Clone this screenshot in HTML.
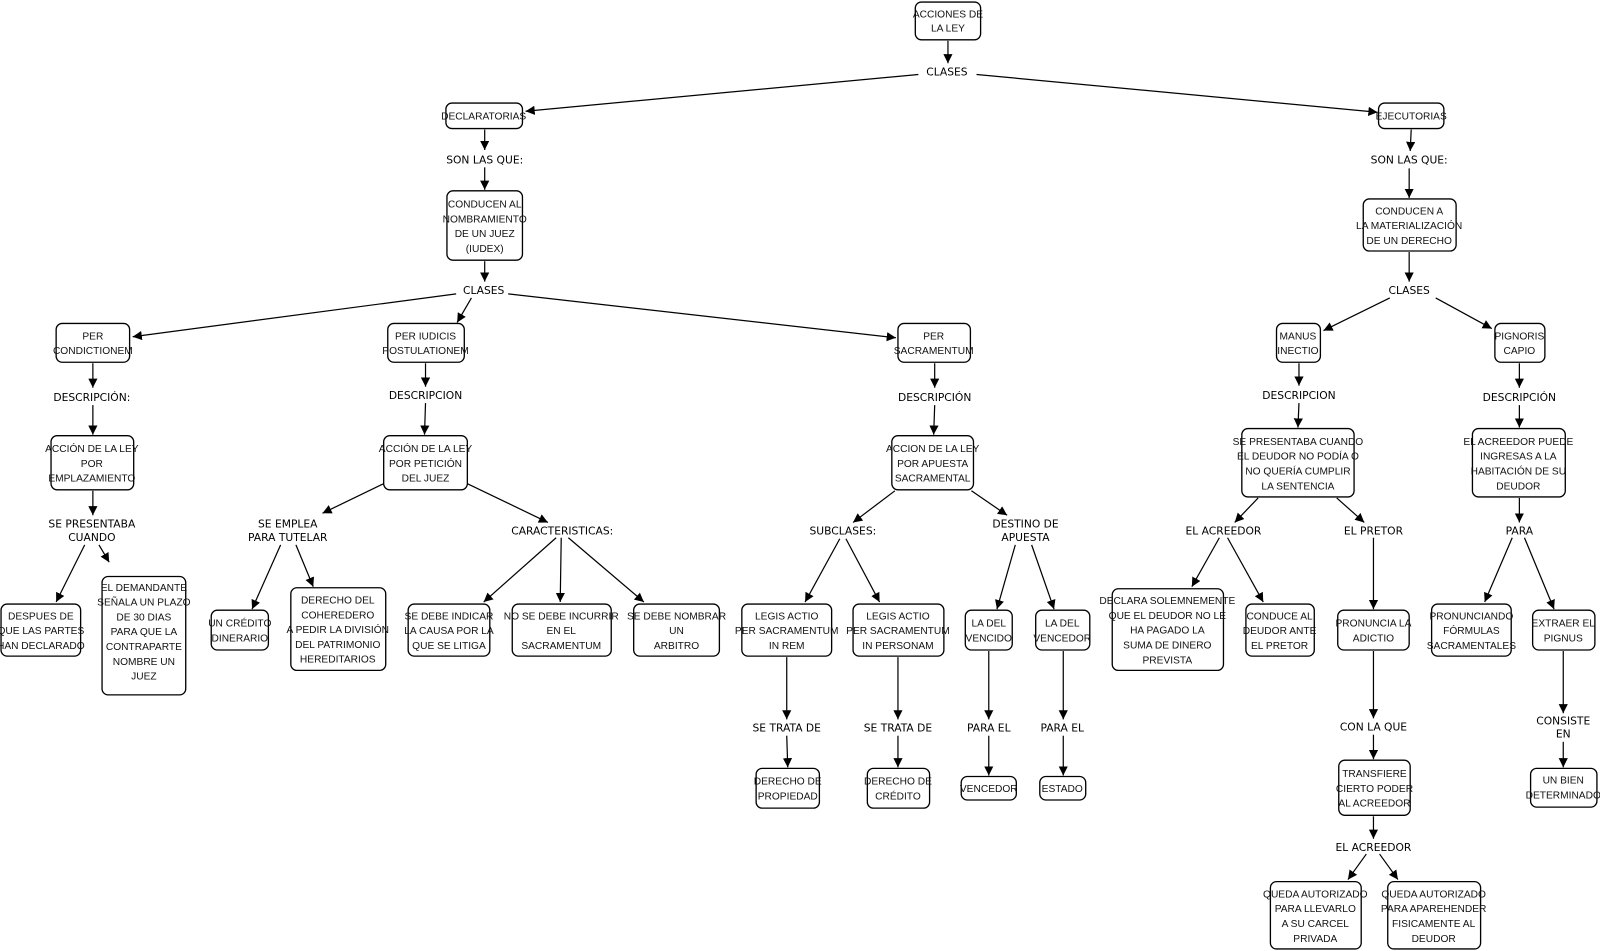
<!DOCTYPE html>
<html><head><meta charset="utf-8"><style>
html,body{margin:0;padding:0;background:#fff;}
svg{display:block}
.b{fill:#fff;stroke:#000;stroke-width:1.3}
.t{font-family:"Liberation Sans Narrow","Liberation Sans",sans-serif;font-size:10px;text-anchor:middle;fill:#111}
.l{font-family:"DejaVu Sans","Liberation Sans",sans-serif;font-size:10.5px;text-anchor:middle;fill:#000}
.e{stroke:#000;stroke-width:1.2;marker-end:url(#a)}
</style></head><body>
<svg width="1600" height="951" viewBox="0 0 1568 932" xmlns="http://www.w3.org/2000/svg">
<defs><marker id="a" viewBox="0 0 10 10" refX="10" refY="5" markerWidth="9" markerHeight="9" markerUnits="userSpaceOnUse" orient="auto"><path d="M0,0 L10,5 L0,10 z" fill="#000"/></marker></defs>
<g>
<line class="e" x1="929" y1="40" x2="929" y2="62"/>
<line class="e" x1="900" y1="73" x2="515" y2="109"/>
<line class="e" x1="957" y1="73" x2="1350" y2="110"/>
<line class="e" x1="475" y1="127" x2="475" y2="147"/>
<line class="e" x1="475" y1="164" x2="475" y2="186"/>
<line class="e" x1="475" y1="256" x2="475" y2="276"/>
<line class="e" x1="447" y1="288" x2="130" y2="330"/>
<line class="e" x1="462" y1="292" x2="448" y2="316"/>
<line class="e" x1="498" y1="288" x2="878" y2="331"/>
<line class="e" x1="1383" y1="127" x2="1382" y2="148"/>
<line class="e" x1="1381" y1="165" x2="1381" y2="194"/>
<line class="e" x1="1381" y1="247" x2="1381" y2="276"/>
<line class="e" x1="1362" y1="292" x2="1297" y2="324"/>
<line class="e" x1="1407" y1="292" x2="1462" y2="322"/>
<line class="e" x1="91" y1="356" x2="91" y2="380"/>
<line class="e" x1="91" y1="397" x2="91" y2="426"/>
<line class="e" x1="417" y1="356" x2="417" y2="379"/>
<line class="e" x1="417" y1="395" x2="416" y2="426"/>
<line class="e" x1="916" y1="356" x2="916" y2="380"/>
<line class="e" x1="916" y1="397" x2="915" y2="426"/>
<line class="e" x1="1273" y1="356" x2="1273" y2="378"/>
<line class="e" x1="1273" y1="395" x2="1272" y2="419"/>
<line class="e" x1="1489" y1="356" x2="1489" y2="380"/>
<line class="e" x1="1489" y1="397" x2="1489" y2="419"/>
<line class="e" x1="91" y1="481" x2="91" y2="505"/>
<line class="e" x1="83" y1="534" x2="55" y2="590"/>
<line class="e" x1="97" y1="534" x2="107" y2="551"/>
<line class="e" x1="376" y1="474" x2="316" y2="503"/>
<line class="e" x1="275" y1="534" x2="247" y2="597"/>
<line class="e" x1="290" y1="534" x2="307" y2="575"/>
<line class="e" x1="458" y1="474" x2="537" y2="512"/>
<line class="e" x1="545" y1="527" x2="474" y2="590"/>
<line class="e" x1="550" y1="527" x2="549" y2="590"/>
<line class="e" x1="557" y1="527" x2="631" y2="590"/>
<line class="e" x1="877" y1="481" x2="836" y2="512"/>
<line class="e" x1="952" y1="481" x2="987" y2="505"/>
<line class="e" x1="823" y1="528" x2="789" y2="590"/>
<line class="e" x1="829" y1="528" x2="862" y2="590"/>
<line class="e" x1="995" y1="534" x2="977" y2="597"/>
<line class="e" x1="1011" y1="534" x2="1033" y2="597"/>
<line class="e" x1="771" y1="644" x2="771" y2="705"/>
<line class="e" x1="880" y1="644" x2="880" y2="705"/>
<line class="e" x1="969" y1="638" x2="969" y2="705"/>
<line class="e" x1="1042" y1="638" x2="1042" y2="705"/>
<line class="e" x1="771" y1="721" x2="772" y2="752"/>
<line class="e" x1="880" y1="721" x2="880" y2="752"/>
<line class="e" x1="969" y1="721" x2="969" y2="760"/>
<line class="e" x1="1042" y1="721" x2="1042" y2="760"/>
<line class="e" x1="1233" y1="488" x2="1210" y2="512"/>
<line class="e" x1="1310" y1="488" x2="1337" y2="512"/>
<line class="e" x1="1195" y1="527" x2="1168" y2="575"/>
<line class="e" x1="1203" y1="527" x2="1238" y2="590"/>
<line class="e" x1="1346" y1="527" x2="1346" y2="597"/>
<line class="e" x1="1346" y1="638" x2="1346" y2="704"/>
<line class="e" x1="1346" y1="720" x2="1346" y2="744"/>
<line class="e" x1="1489" y1="488" x2="1489" y2="512"/>
<line class="e" x1="1482" y1="527" x2="1455" y2="590"/>
<line class="e" x1="1494" y1="527" x2="1523" y2="597"/>
<line class="e" x1="1532" y1="638" x2="1532" y2="699"/>
<line class="e" x1="1532" y1="727" x2="1532" y2="752"/>
<line class="e" x1="1346" y1="800" x2="1346" y2="822"/>
<line class="e" x1="1339" y1="837" x2="1321" y2="862"/>
<line class="e" x1="1352" y1="837" x2="1370" y2="862"/>
</g>
<g>
<rect class="b" x="897" y="2" width="64" height="37" rx="6"/>
<rect class="b" x="437" y="101" width="75" height="25" rx="6"/>
<rect class="b" x="1351" y="101" width="64" height="25" rx="6"/>
<rect class="b" x="438" y="187" width="74" height="68" rx="6"/>
<rect class="b" x="1336" y="195" width="91" height="51" rx="6"/>
<rect class="b" x="55" y="317" width="72" height="38" rx="6"/>
<rect class="b" x="380" y="317" width="75" height="38" rx="6"/>
<rect class="b" x="880" y="317" width="71" height="38" rx="6"/>
<rect class="b" x="1251" y="317" width="43" height="38" rx="6"/>
<rect class="b" x="1465" y="317" width="49" height="38" rx="6"/>
<rect class="b" x="50" y="427" width="81" height="53" rx="6"/>
<rect class="b" x="376" y="427" width="82" height="53" rx="6"/>
<rect class="b" x="874" y="427" width="80" height="53" rx="6"/>
<rect class="b" x="1217" y="420" width="110" height="67" rx="6"/>
<rect class="b" x="1443" y="420" width="91" height="67" rx="6"/>
<rect class="b" x="1" y="592" width="78" height="51" rx="6"/>
<rect class="b" x="100" y="565" width="82" height="116" rx="6"/>
<rect class="b" x="207" y="598" width="56" height="39" rx="6"/>
<rect class="b" x="285" y="576" width="93" height="81" rx="6"/>
<rect class="b" x="400" y="592" width="80" height="51" rx="6"/>
<rect class="b" x="502" y="592" width="97" height="51" rx="6"/>
<rect class="b" x="621" y="592" width="84" height="51" rx="6"/>
<rect class="b" x="727" y="592" width="88" height="51" rx="6"/>
<rect class="b" x="836" y="592" width="89" height="51" rx="6"/>
<rect class="b" x="946" y="598" width="46" height="39" rx="6"/>
<rect class="b" x="1015" y="598" width="53" height="39" rx="6"/>
<rect class="b" x="1090" y="577" width="109" height="80" rx="6"/>
<rect class="b" x="1221" y="592" width="67" height="51" rx="6"/>
<rect class="b" x="1311" y="598" width="70" height="39" rx="6"/>
<rect class="b" x="1403" y="592" width="78" height="51" rx="6"/>
<rect class="b" x="1502" y="598" width="61" height="39" rx="6"/>
<rect class="b" x="741" y="753" width="62" height="39" rx="6"/>
<rect class="b" x="850" y="753" width="61" height="39" rx="6"/>
<rect class="b" x="942" y="761" width="54" height="23" rx="6"/>
<rect class="b" x="1019" y="761" width="45" height="23" rx="6"/>
<rect class="b" x="1312" y="745" width="70" height="54" rx="6"/>
<rect class="b" x="1500" y="753" width="65" height="38" rx="6"/>
<rect class="b" x="1245" y="864" width="89" height="66" rx="6"/>
<rect class="b" x="1360" y="864" width="91" height="66" rx="6"/>
</g>
<g class="t">
<text class="t" x="929" y="17">ACCIONES DE</text><text class="t" x="929" y="31">LA LEY</text>
<text class="t" x="474" y="117">DECLARATORIAS</text>
<text class="t" x="1383" y="117">EJECUTORIAS</text>
<text class="t" x="475" y="203.5">CONDUCEN AL</text><text class="t" x="475" y="218">NOMBRAMIENTO</text><text class="t" x="475" y="232.5">DE UN JUEZ</text><text class="t" x="475" y="247">(IUDEX)</text>
<text class="t" x="1381" y="210">CONDUCEN A</text><text class="t" x="1381" y="224.5">LA MATERIALIZACIÓN</text><text class="t" x="1381" y="239">DE UN DERECHO</text>
<text class="t" x="91" y="332.5">PER</text><text class="t" x="91" y="347">CONDICTIONEM</text>
<text class="t" x="417" y="332.5">PER IUDICIS</text><text class="t" x="417" y="347">POSTULATIONEM</text>
<text class="t" x="915" y="332.5">PER</text><text class="t" x="915" y="347">SACRAMENTUM</text>
<text class="t" x="1272" y="332.5">MANUS</text><text class="t" x="1272" y="347">INECTIO</text>
<text class="t" x="1489" y="332.5">PIGNORIS</text><text class="t" x="1489" y="347">CAPIO</text>
<text class="t" x="90" y="443">ACCIÓN DE LA LEY</text><text class="t" x="90" y="457.5">POR</text><text class="t" x="90" y="472">EMPLAZAMIENTO</text>
<text class="t" x="417" y="443">ACCIÓN DE LA LEY</text><text class="t" x="417" y="457.5">POR PETICIÓN</text><text class="t" x="417" y="472">DEL JUEZ</text>
<text class="t" x="914" y="443">ACCION DE LA LEY</text><text class="t" x="914" y="457.5">POR APUESTA</text><text class="t" x="914" y="472">SACRAMENTAL</text>
<text class="t" x="1272" y="436">SE PRESENTABA CUANDO</text><text class="t" x="1272" y="450.5">EL DEUDOR NO PODÍA O</text><text class="t" x="1272" y="465">NO QUERÍA CUMPLIR</text><text class="t" x="1272" y="479.5">LA SENTENCIA</text>
<text class="t" x="1488" y="436">EL ACREEDOR PUEDE</text><text class="t" x="1488" y="450.5">INGRESAS A LA</text><text class="t" x="1488" y="465">HABITACIÓN DE SU</text><text class="t" x="1488" y="479.5">DEUDOR</text>
<text class="t" x="40" y="607">DESPUES DE</text><text class="t" x="40" y="621.5">QUE LAS PARTES</text><text class="t" x="40" y="636">HAN DECLARADO</text>
<text class="t" x="141" y="579">EL DEMANDANTE</text><text class="t" x="141" y="593.5">SEÑALA UN PLAZO</text><text class="t" x="141" y="608">DE 30 DIAS</text><text class="t" x="141" y="622.5">PARA QUE LA</text><text class="t" x="141" y="637">CONTRAPARTE</text><text class="t" x="141" y="651.5">NOMBRE UN</text><text class="t" x="141" y="666">JUEZ</text>
<text class="t" x="235" y="614">UN CRÉDITO</text><text class="t" x="235" y="628.5">DINERARIO</text>
<text class="t" x="331" y="591.5">DERECHO DEL</text><text class="t" x="331" y="606">COHEREDERO</text><text class="t" x="331" y="620.5">A PEDIR LA  DIVISIÓN</text><text class="t" x="331" y="635">DEL PATRIMONIO</text><text class="t" x="331" y="649.5">HEREDITARIOS</text>
<text class="t" x="440" y="607">SE DEBE INDICAR</text><text class="t" x="440" y="621.5">LA CAUSA POR LA</text><text class="t" x="440" y="636">QUE SE LITIGA</text>
<text class="t" x="550" y="607">NO SE DEBE INCURRIR</text><text class="t" x="550" y="621.5">EN EL</text><text class="t" x="550" y="636">SACRAMENTUM</text>
<text class="t" x="663" y="607">SE DEBE NOMBRAR</text><text class="t" x="663" y="621.5">UN</text><text class="t" x="663" y="636">ARBITRO</text>
<text class="t" x="771" y="607">LEGIS ACTIO</text><text class="t" x="771" y="621.5">PER SACRAMENTUM</text><text class="t" x="771" y="636">IN REM</text>
<text class="t" x="880" y="607">LEGIS ACTIO</text><text class="t" x="880" y="621.5">PER SACRAMENTUM</text><text class="t" x="880" y="636">IN PERSONAM</text>
<text class="t" x="969" y="614">LA DEL</text><text class="t" x="969" y="628.5">VENCIDO</text>
<text class="t" x="1041" y="614">LA DEL</text><text class="t" x="1041" y="628.5">VENCEDOR</text>
<text class="t" x="1144" y="592">DECLARA SOLEMNEMENTE</text><text class="t" x="1144" y="606.5">QUE EL DEUDOR NO LE</text><text class="t" x="1144" y="621">HA PAGADO LA</text><text class="t" x="1144" y="635.5">SUMA DE DINERO</text><text class="t" x="1144" y="650">PREVISTA</text>
<text class="t" x="1254" y="607">CONDUCE AL</text><text class="t" x="1254" y="621.5">DEUDOR ANTE</text><text class="t" x="1254" y="636">EL PRETOR</text>
<text class="t" x="1346" y="614">PRONUNCIA LA</text><text class="t" x="1346" y="628.5">ADICTIO</text>
<text class="t" x="1442" y="607">PRONUNCIANDO</text><text class="t" x="1442" y="621.5">FÓRMULAS</text><text class="t" x="1442" y="636">SACRAMENTALES</text>
<text class="t" x="1532" y="614">EXTRAER EL</text><text class="t" x="1532" y="628.5">PIGNUS</text>
<text class="t" x="772" y="769">DERECHO DE</text><text class="t" x="772" y="783.5">PROPIEDAD</text>
<text class="t" x="880" y="769">DERECHO DE</text><text class="t" x="880" y="783.5">CRÉDITO</text>
<text class="t" x="969" y="776">VENCEDOR</text>
<text class="t" x="1041" y="776">ESTADO</text>
<text class="t" x="1347" y="761.5">TRANSFIERE</text><text class="t" x="1347" y="776">CIERTO PODER</text><text class="t" x="1347" y="790.5">AL ACREEDOR</text>
<text class="t" x="1532" y="768">UN BIEN</text><text class="t" x="1532" y="782.5">DETERMINADO</text>
<text class="t" x="1289" y="879.5">QUEDA AUTORIZADO</text><text class="t" x="1289" y="894">PARA LLEVARLO</text><text class="t" x="1289" y="908.5">A SU CARCEL</text><text class="t" x="1289" y="923">PRIVADA</text>
<text class="t" x="1405" y="879.5">QUEDA AUTORIZADO</text><text class="t" x="1405" y="894">PARA APAREHENDER</text><text class="t" x="1405" y="908.5">FISICAMENTE AL</text><text class="t" x="1405" y="923">DEUDOR</text>
</g>
<g>
<text class="l" x="928" y="74">CLASES</text>
<text class="l" x="475" y="160">SON LAS QUE:</text>
<text class="l" x="1381" y="160">SON LAS QUE:</text>
<text class="l" x="474" y="288">CLASES</text>
<text class="l" x="1381" y="288">CLASES</text>
<text class="l" x="90" y="393">DESCRIPCIÓN:</text>
<text class="l" x="417" y="391">DESCRIPCION</text>
<text class="l" x="916" y="393">DESCRIPCIÓN</text>
<text class="l" x="1273" y="391">DESCRIPCION</text>
<text class="l" x="1489" y="393">DESCRIPCIÓN</text>
<text class="l" x="90" y="517">SE PRESENTABA</text><text class="l" x="90" y="530">CUANDO</text>
<text class="l" x="282" y="517">SE EMPLEA</text><text class="l" x="282" y="530">PARA TUTELAR</text>
<text class="l" x="551" y="524">CARACTERISTICAS:</text>
<text class="l" x="826" y="524">SUBCLASES:</text>
<text class="l" x="1005" y="517">DESTINO DE</text><text class="l" x="1005" y="530">APUESTA</text>
<text class="l" x="1199" y="524">EL ACREEDOR</text>
<text class="l" x="1346" y="524">EL PRETOR</text>
<text class="l" x="1489" y="524">PARA</text>
<text class="l" x="771" y="717">SE TRATA DE</text>
<text class="l" x="880" y="717">SE TRATA DE</text>
<text class="l" x="969" y="717">PARA EL</text>
<text class="l" x="1041" y="717">PARA EL</text>
<text class="l" x="1346" y="716">CON LA QUE</text>
<text class="l" x="1532" y="710">CONSISTE</text><text class="l" x="1532" y="723">EN</text>
<text class="l" x="1346" y="834">EL ACREEDOR</text>
</g>
</svg>
</body></html>
